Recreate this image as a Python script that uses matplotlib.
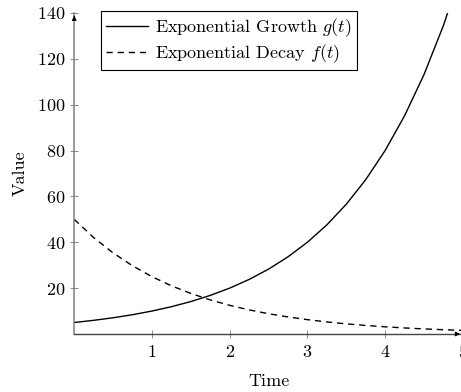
import matplotlib.pyplot as plt

plt.rcParams['font.family'] = 'serif'
plt.rcParams['font.serif'] = ['cmr10', 'DejaVu Serif']
plt.rcParams['mathtext.fontset'] = 'cm'
plt.rcParams['axes.formatter.use_mathtext'] = True

# values (t step 0.25)
t = [0, 0.25, 0.5, 0.75, 1, 1.25, 1.5, 1.75, 2, 2.25, 2.5,
     2.75, 3, 3.25, 3.5, 3.75, 4, 4.25, 4.5, 4.75, 5]
growth = [5, 5.95, 7.07, 8.41, 10, 11.89, 14.14, 16.82, 20, 23.78, 28.28,
          33.64, 40, 47.57, 56.57, 67.27, 80, 95.14, 113.1, 134.5, 160]
decay = [50, 42.04, 35.36, 29.73, 25, 21.02, 17.68, 14.87, 12.5, 10.51, 8.84,
         7.43, 6.25, 5.26, 4.42, 3.72, 3.13, 2.63, 2.21, 1.86, 1.56]

fig = plt.figure(figsize=(4.61, 3.92), dpi=100)
ax = fig.add_axes([0.161, 0.148, 0.843, 0.819])

ax.plot(t, growth, color='black', lw=1.0, label='Exponential Growth $g(t)$')
ax.plot(t, decay, color='black', lw=1.0, ls=(0, (4.5, 3.5)), label='Exponential Decay $f(t)$')

ax.set_xlim(0, 5)
ax.set_ylim(0, 140)
ax.set_xticks([1, 2, 3, 4, 5])
ax.set_yticks([20, 40, 60, 80, 100, 120, 140])
ax.tick_params(direction='inout', length=6, width=0.6, color='#777777', labelsize=13)
ax.tick_params(axis='x', pad=4)
ax.tick_params(axis='y', pad=3)

for side in ['top', 'right']:
    ax.spines[side].set_visible(False)
ax.spines['left'].set_color('#808080')
ax.spines['bottom'].set_color('#444444')
ax.spines['left'].set_linewidth(1.1)
ax.spines['bottom'].set_linewidth(1.0)

# axis arrows
ax.annotate('', xy=(0, 1.0), xytext=(0, 0.98), xycoords='axes fraction',
            arrowprops=dict(arrowstyle='-|>', color='black', lw=0.6, mutation_scale=7))
ax.annotate('', xy=(1.0, 0), xytext=(0.98, 0), xycoords='axes fraction',
            arrowprops=dict(arrowstyle='-|>', color='black', lw=0.6, mutation_scale=7))

ax.set_xlabel('Time', fontsize=13, labelpad=9)
ax.set_ylabel('Value', fontsize=13, labelpad=7)

leg = ax.legend(loc='upper left', bbox_to_anchor=(0.068, 1.005), fontsize=13,
                frameon=True, fancybox=False, edgecolor='black', framealpha=1,
                handlelength=2.3, borderpad=0.3, labelspacing=0.15, handletextpad=0.4,
                borderaxespad=0)
leg.get_frame().set_linewidth(0.8)

fig.savefig('out.png', dpi=100)
